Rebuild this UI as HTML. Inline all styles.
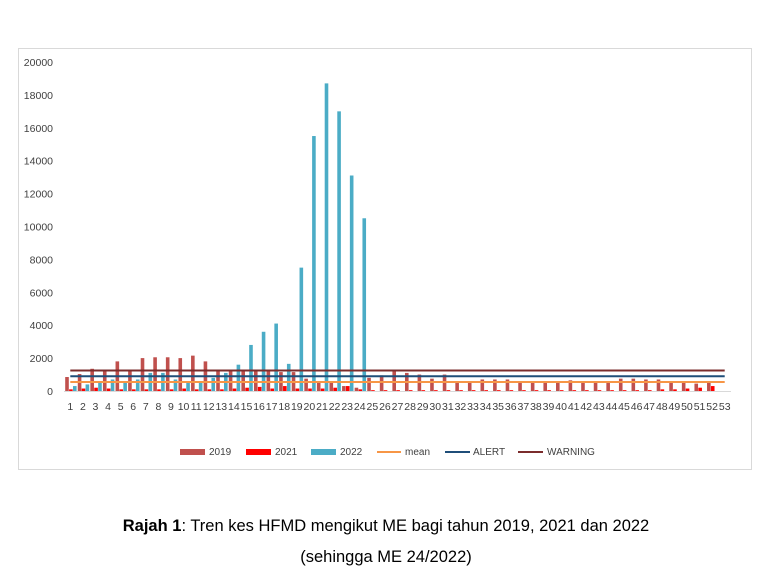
<!DOCTYPE html>
<html><head><meta charset="utf-8"><style>
body{margin:0;background:#fff;width:772px;height:574px;overflow:hidden;font-family:"Liberation Sans",sans-serif}
.cap{position:absolute;left:0;width:772px;text-align:center;font-size:16.5px;color:#000}
</style></head><body>
<svg width="772" height="574" style="position:absolute;left:0;top:0" font-family="Liberation Sans, sans-serif">
<rect x="18.5" y="48.5" width="733" height="421" fill="none" stroke="#d9d9d9"/>
<g id="yaxis"></g><g id="bars"></g><g id="lines"></g><g id="xaxis"></g>
<g font-size="10" fill="#404040">
<rect x="180" y="449" width="25" height="6" fill="#c0504d"/><text x="209" y="455">2019</text>
<rect x="246" y="449" width="25" height="6" fill="#ff0000"/><text x="275" y="455">2021</text>
<rect x="311" y="449" width="25" height="6" fill="#4bacc6"/><text x="340" y="455">2022</text>
<line x1="377" y1="452" x2="401" y2="452" stroke="#f79646" stroke-width="2"/><text x="405" y="455">mean</text>
<line x1="445" y1="452" x2="470" y2="452" stroke="#1f4e79" stroke-width="2"/><text x="473" y="455">ALERT</text>
<line x1="518" y1="452" x2="543" y2="452" stroke="#7b2c2c" stroke-width="2"/><text x="547" y="455">WARNING</text>
</g>
</svg>
<div class="cap" style="top:517px"><b>Rajah 1</b>: Tren kes HFMD mengikut ME bagi tahun 2019, 2021 dan 2022</div>
<div class="cap" style="top:548px">(sehingga ME 24/2022)</div>
<script>
const yTicks=[0,2000,4000,6000,8000,10000,12000,14000,16000,18000,20000];
const s2019=[850,1030,1350,1300,1800,1300,2000,2050,2050,2000,2150,1800,1300,1250,1300,1250,1200,1150,1150,750,600,500,300,200,800,950,1200,1100,1000,750,1000,600,600,700,700,700,600,600,550,500,650,550,550,500,750,750,700,700,500,500,450,500,0];
const s2021=[100,150,200,150,100,100,100,100,100,150,100,100,100,150,200,250,150,300,150,150,150,200,300,100,50,50,50,50,50,50,50,50,50,50,50,50,50,50,50,50,50,50,50,50,50,50,50,100,100,150,200,300,0];
const s2022=[300,400,500,700,600,700,1100,1100,700,600,600,800,1100,1600,2800,3600,4100,1650,7500,15500,18700,17000,13100,10500];
const meanV=550, alertV=900, warnV=1250;
const NS='http://www.w3.org/2000/svg';
const x0=64,x1=731,yb=391,yt=62,ymax=20000,N=s2019.length,cw=(x1-x0)/N;
const Y=v=>yb-(v/ymax)*(yb-yt);
const X=i=>x0+i*cw;
function mk(t,a,p){const e=document.createElementNS(NS,t);for(const k in a)e.setAttribute(k,a[k]);p.appendChild(e);return e;}
const ya=document.getElementById('yaxis');
yTicks.forEach(v=>{const t=mk('text',{x:53,y:Y(v)+4,'text-anchor':'end','font-size':10.5,fill:'#404040'},ya);t.textContent=v;

});
const b=document.getElementById('bars');
const bw=3.6;
[[s2019,'#c0504d',0],[s2021,'#ff0000',1],[s2022,'#4bacc6',2]].forEach(([s,c,k])=>{
 s.forEach((v,i)=>{const x=X(i)+1.2+k*(bw+0.3);const r=mk('rect',{x:x,y:Y(v),width:bw,height:yb-Y(v),fill:c},b);
 
 });});
const l=document.getElementById('lines');
[[meanV,'#f79646','mean-line'],[alertV,'#1f4e79','alert-line'],[warnV,'#7b2c2c','warning-line']].forEach(([v,c,n])=>{
 const e=mk('line',{x1:X(0)+cw/2,x2:X(N-1)+cw/2,y1:Y(v),y2:Y(v),stroke:c,'stroke-width':2},l);
 
 });
const xa=document.getElementById('xaxis');
const ax=mk('line',{x1:x0,x2:x1,y1:yb+0.5,y2:yb+0.5,stroke:'#d9d9d9'},xa);


for(let i=0;i<N;i++){const t=mk('text',{x:X(i)+cw/2,y:410,'text-anchor':'middle','font-size':10.5,fill:'#404040'},xa);t.textContent=i+1;

}
</script>
</body></html>
